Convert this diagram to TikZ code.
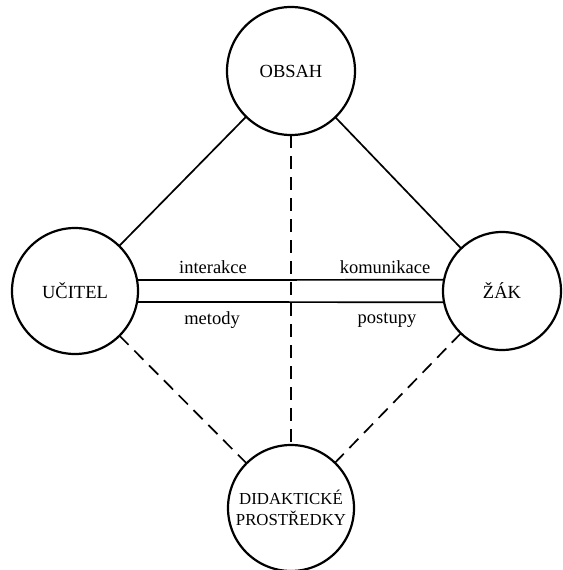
\documentclass[tikz,border=0pt]{standalone}
\usepackage{fontspec}
\setmainfont{Liberation Serif}
\begin{document}
\begin{tikzpicture}[x=1pt,y=-1pt,
  ring/.style={draw,circle,line width=2.2pt,inner sep=0pt,outer sep=0pt,font=\fontsize{18.5}{21}\selectfont},
  link/.style={line width=1.7pt},
  dlink/.style={line width=1.7pt,dash pattern=on 13pt off 8pt},
  lbl/.style={font=\fontsize{18.5}{21}\selectfont,inner sep=0pt}]
\useasboundingbox (0,0) rectangle (562,570);
\node[ring,minimum size=128pt] (o) at (291,71) {OBSAH};
\node[ring,minimum size=126pt] (u) at (75,291) {UČITEL};
\node[ring,minimum size=118pt] (z) at (502,291) {ŽÁK};
\node[ring,minimum size=126pt,align=center,font=\fontsize{16.8}{21.5}\selectfont] (d) at (291,508) {DIDAKTICKÉ\\PROSTŘEDKY};
\draw[link] (o) -- (u);
\draw[link] (o) -- (z);
\draw[dlink] (o) -- (d);
\draw[dlink] (u) -- (d);
\draw[dlink] (z) -- (d);
\draw[link] (u.10.06) -- (z.169.25);
\draw[link] (u.-10.98) -- (z.191.73);
\node[lbl] (ia) at (213,267) {interakce};
\node[lbl] (ko) at (385,267) {komunikace};
\node[lbl] (me) at (212,320) {metody};
\node[lbl] (po) at (387,320) {postupy};
\end{tikzpicture}
\end{document}
